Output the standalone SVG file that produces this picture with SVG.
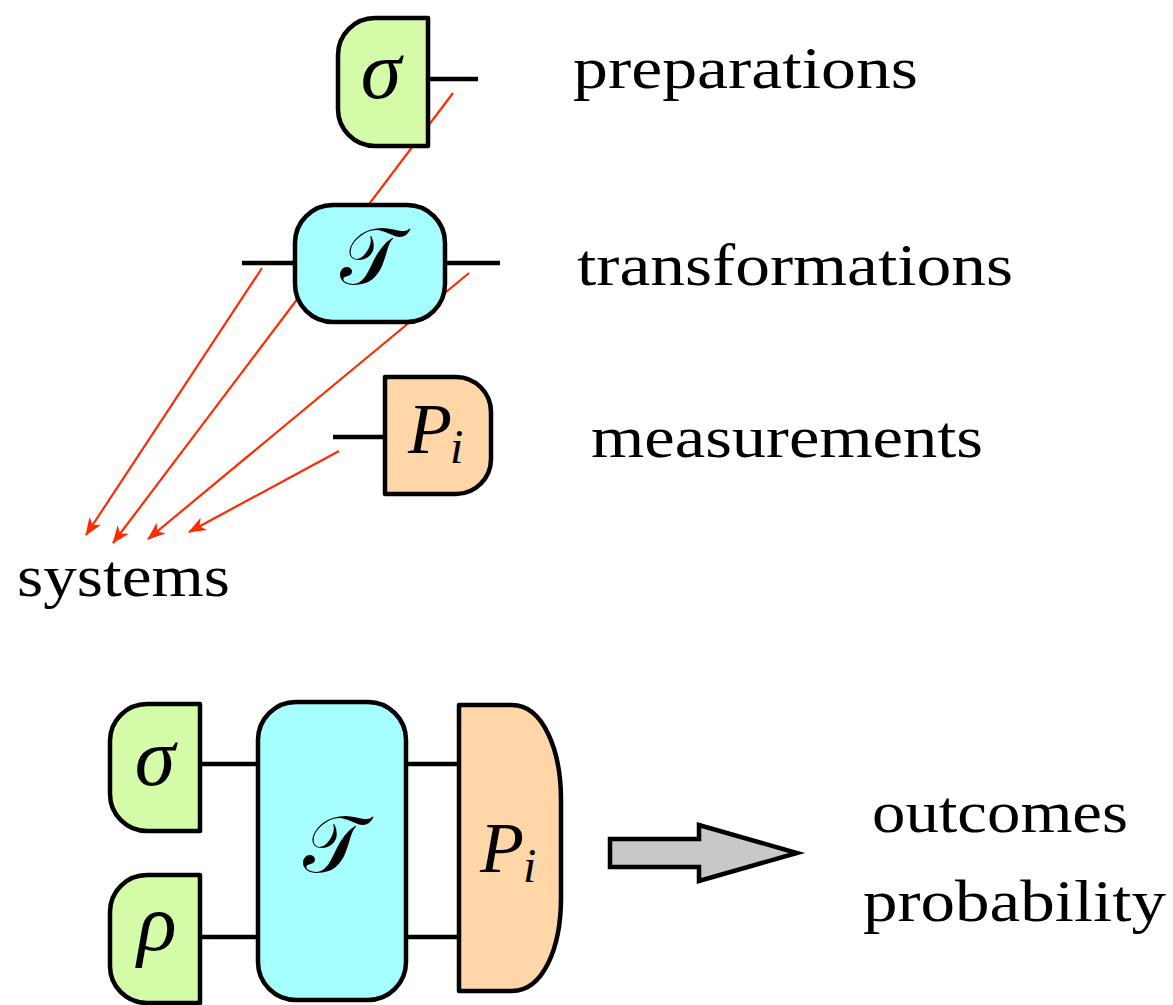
<svg xmlns="http://www.w3.org/2000/svg" width="1173" height="1005" viewBox="0 0 1173 1005">
  <style>
    .box { stroke: #000; stroke-width: 4.5; stroke-linejoin: round; }
    .prep { fill: #d4fca8; }
    .trans { fill: #a6fdfe; }
    .meas { fill: #fed6a8; }
    .wire { stroke: #000; stroke-width: 4.5; fill: none; }
    .ptr { stroke: #ff2a00; stroke-width: 2.2; fill: none; marker-end: url(#redhead); }
    .label { font-family: "Liberation Serif", "DejaVu Serif", serif; font-size: 60px; fill: #000; }
    .sym { font-family: "Liberation Serif", "DejaVu Serif", serif; font-style: italic; font-size: 72px; fill: #000; }
    .greek { font-family: "Liberation Serif", "DejaVu Serif", serif; font-style: italic; font-size: 82px; fill: #000; }
    .cal { font-family: "DejaVu Serif", "Noto Sans", serif; font-size: 80px; fill: #000; }
    .sub { font-family: "Liberation Serif", "DejaVu Serif", serif; font-style: italic; font-size: 48px; fill: #000; }
  </style>
  <defs>
    <marker id="redhead" viewBox="0 0 18 14" refX="17" refY="7" markerWidth="18" markerHeight="14" markerUnits="userSpaceOnUse" orient="auto">
      <path d="M0,0 L18,7 L0,14 L5,7 Z" fill="#ff2a00"/>
    </marker>
  </defs>

  <!-- pointers to the system wires, drawn first so boxes sit on top -->
  <g id="connectors">
    <line class="ptr" x1="262" y1="268" x2="86" y2="535"/>
    <line class="ptr" x1="453" y1="93" x2="113" y2="543"/>
    <line class="ptr" x1="469" y1="273" x2="148" y2="539"/>
    <line class="ptr" x1="339" y1="451" x2="189" y2="532"/>

    <!-- system wires -->
    <line class="wire" x1="428" y1="79" x2="478" y2="79"/>
    <line class="wire" x1="242" y1="263" x2="295" y2="263"/>
    <line class="wire" x1="445" y1="263" x2="500" y2="263"/>
    <line class="wire" x1="333" y1="437" x2="385" y2="437"/>
    <line class="wire" x1="200" y1="764" x2="258" y2="764"/>
    <line class="wire" x1="200" y1="937" x2="258" y2="937"/>
    <line class="wire" x1="406" y1="764" x2="459" y2="764"/>
    <line class="wire" x1="406" y1="937" x2="459" y2="937"/>
  </g>

  <!-- single elements -->
  <g id="prep-sigma">
    <path class="box prep" d="M428,18 H375 A37,37 0 0 0 338,55 V109 A37,37 0 0 0 375,146 H428 Z"/>
    <text class="greek" x="381" y="98" text-anchor="middle">σ</text>
  </g>
  <g id="trans-T">
    <rect class="box trans" x="295" y="205" width="150" height="117" rx="38" ry="38"/>
    <text class="cal" x="370" y="284" text-anchor="middle">𝒯</text>
  </g>
  <g id="meas-P">
    <path class="box meas" d="M385,377 H456 A35,35 0 0 1 491,412 V459 A35,35 0 0 1 456,494 H385 Z"/>
    <text class="sym" x="408" y="453">P</text>
    <text class="sub" x="450" y="463">i</text>
  </g>

  <!-- labels -->
  <text id="lbl-prep" class="label" x="573" y="88" textLength="345" lengthAdjust="spacingAndGlyphs">preparations</text>
  <text id="lbl-trans" class="label" x="577" y="285" textLength="436" lengthAdjust="spacingAndGlyphs">transformations</text>
  <text id="lbl-meas" class="label" x="591" y="457" textLength="392" lengthAdjust="spacingAndGlyphs">measurements</text>
  <text id="lbl-sys" class="label" x="17" y="596" textLength="213" lengthAdjust="spacingAndGlyphs">systems</text>

  <!-- composed circuit -->
  <g id="circ-sigma">
    <path class="box prep" d="M200,704 H147 A37,37 0 0 0 110,741 V794 A37,37 0 0 0 147,831 H200 Z"/>
    <text class="greek" x="155" y="785" text-anchor="middle">σ</text>
  </g>
  <g id="circ-rho">
    <path class="box prep" d="M200,875 H147 A37,37 0 0 0 110,912 V966 A37,37 0 0 0 147,1003 H200 Z"/>
    <text class="greek" x="157" y="950" text-anchor="middle">ρ</text>
  </g>
  <g id="circ-T">
    <rect class="box trans" x="258" y="702" width="148" height="298" rx="38" ry="38"/>
    <text class="cal" x="333" y="872" text-anchor="middle">𝒯</text>
  </g>
  <g id="circ-P">
    <path class="box meas" d="M459,705 H512 C543,705 561,750 561,800 V898 C561,948 543,991 512,991 H459 Z"/>
    <text class="sym" x="480" y="872">P</text>
    <text class="sub" x="523" y="882">i</text>
  </g>

  <g id="result-arrow">
    <polygon points="610,839 699,839 699,825 797,853 699,881 699,867 610,867" fill="#c8c8c8" stroke="#000" stroke-width="4.5" stroke-linejoin="miter"/>
  </g>
  <text id="lbl-out" class="label" x="872" y="832" textLength="256" lengthAdjust="spacingAndGlyphs">outcomes</text>
  <text id="lbl-prob" class="label" x="863" y="921" textLength="303" lengthAdjust="spacingAndGlyphs">probability</text>
</svg>
